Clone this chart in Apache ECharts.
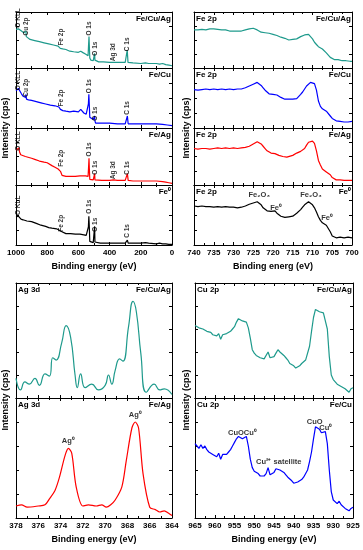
<!DOCTYPE html>
<html><head><meta charset="utf-8">
<script src="https://cdn.jsdelivr.net/npm/echarts@6/dist/echarts.min.js"></script>
<style>html,body{margin:0;padding:0;background:#fff}#c{width:363px;height:550px}</style>
</head><body><div id="c"></div>
<script>
// ---- Survey spectra (Binding energy eV, intensity a.u.) ----
const surveyFeCuAg = [[1000,69],[992,68],[985,70],[978,73],[974,69],[965,66],[950,63],[940,61],[936,66],[934,56],[925,54],[910,51],[880,49],[850,47],[820,45],[790,43],[760,41],[730,39],[722,38],[716,35],[712,33],[700,34],[680,33],[655,30],[630,29],[600,28],[585,30],[575,31],[568,27],[555,25],[545,24],[538,22],[535,40],[532,56],[530,40],[527,18],[520,14],[505,13],[498,14],[496,26],[494,14],[490,11],[470,11],[440,11],[400,10],[370,10],[340,10],[300,10],[290,10],[287,32],[284,32],[282,10],[275,9],[250,9],[200,8],[170,9],[150,8],[100,8],[80,7],[60,8],[40,6],[20,5],[0,4]];
const surveyFeCu = [[1000,62],[992,63],[985,66],[980,68],[975,63],[965,57],[955,53],[945,52],[938,51],[936,56],[933,48],[920,47],[900,46],[870,44],[840,42],[810,40],[780,38],[750,37],[725,35],[720,34],[715,31],[710,30],[700,29],[680,28],[655,27],[630,28],[600,27],[585,31],[578,29],[565,25],[550,23],[540,22],[536,40],[533,56],[530,38],[527,18],[520,16],[505,14],[498,12],[496,20],[494,12],[490,8],[460,8],[400,8],[350,7],[300,7],[288,7],[286,20],[283,20],[281,7],[250,7],[200,7],[150,7],[100,7],[60,6],[30,5],[0,4]];
const surveyFeAg = [[1000,61],[995,63],[988,64],[982,65],[977,58],[970,53],[960,51],[940,50],[900,47],[880,45],[850,42],[820,40],[800,39],[790,37],[770,34],[750,31],[730,28],[722,27],[715,24],[712,24],[705,17],[700,15],[680,15],[650,15],[620,15],[590,16],[570,16],[555,16],[545,15],[538,15],[535,30],[532,47],[530,30],[527,10],[520,9],[505,9],[498,9],[496,20],[494,9],[490,8],[450,8],[400,8],[375,9],[370,12],[367,9],[350,8],[300,8],[288,8],[286,20],[283,20],[281,8],[250,7],[200,7],[150,7],[100,7],[60,6],[40,5],[20,4],[0,3]];
const surveyFe0 = [[1000,47],[993,46],[985,48],[978,50],[974,45],[968,43],[955,42],[930,40],[900,39],[870,36],[840,33],[810,31],[790,29],[770,28],[740,27],[725,25],[718,24],[712,23],[708,21],[700,20],[680,19],[650,19],[620,18],[590,18],[565,17],[550,16],[540,14],[536,30],[533,48],[530,30],[527,6],[520,5],[505,4],[498,5],[496,31],[494,5],[490,3],[460,3],[400,3],[350,3],[300,3],[288,3],[286,8],[283,8],[281,3],[250,3],[200,3],[170,4],[150,3],[100,2],[80,3],[60,2],[40,2],[20,1],[0,1]];

// ---- Fe 2p ----
const fe2pFeCuAg = [[740,68],[739.5,67],[739,68],[738.5,68],[738,69],[737.5,67],[737,68],[736.5,66],[736,70],[735.5,69],[735,70],[734.5,68],[734,69],[733.5,67],[733,68],[732.5,69],[732,68],[731.5,67],[731,66],[730.5,65],[730,66],[729.5,65],[729,66],[728.5,65],[728,66],[727.5,67],[727,68],[726.5,69],[726,70],[725.5,69],[725,71],[724.5,69],[724,68],[723.5,67],[723,64],[722.5,63],[722,63],[721.5,62],[721,62],[720.5,61],[720,60],[719.5,59],[719,58],[718.5,57],[718,55],[717.5,54],[717,53],[716.5,51],[716,50],[715.5,49],[715,51],[714.5,50],[714,52],[713.5,54],[713,56],[712.5,58],[712,59],[711.5,62],[711,60],[710.5,57],[710,52],[709.5,46],[709,42],[708.5,38],[708,36],[707.5,34],[707,33],[706.5,27],[706,23],[705.5,19],[705,17],[704.5,15],[704,14],[703.5,15],[703,14],[702.5,13],[702,14],[701.5,13],[701,12],[700.5,12],[700,12]];
const fe2pFeCu = [[740,64],[739,63],[738,64],[737,65],[736,64],[735,65],[734,64],[733,65],[732,64],[731,65],[730,64],[729,65],[728.5,63],[728,65],[727.5,66],[727,67],[726,70],[725,73],[724.5,75],[724,76],[723.5,74],[723,71],[722.5,67],[722,63],[721.5,60],[721,57],[720.5,55],[720,56],[719.5,57],[719,55],[718.5,53],[718,51],[717.5,50],[717,48],[716,48],[715,48],[714,49],[713.5,52],[713,56],[712.5,60],[712,65],[711.5,70],[711,73],[710.5,76],[710,77],[709.5,74],[709,63],[708.5,45],[708,36],[707.5,32],[707,30],[706.5,28],[706,25],[705.5,20],[705,16],[704.5,13],[704,12],[703,11],[702,10],[701,10],[700,11]];
const fe2pFeAg = [[740,64],[739,63],[738,64],[737,64],[736,63],[735,64],[734,65],[733,64],[732,65],[731,64],[730,65],[729,64],[728,65],[727,66],[726,68],[725,72],[724.5,75],[724,76],[723.5,74],[723,72],[722.5,68],[722,64],[721.5,60],[721,57],[720.5,56],[720,56],[719.5,55],[719,53],[718.5,52],[718,51],[717.5,50],[717,50],[716.5,49],[716,50],[715,52],[714.5,55],[714,56],[713.5,57],[713,59],[712.5,61],[712,64],[711.5,70],[711,75],[710.5,78],[710,77],[709.5,73],[709,60],[708.5,43],[708,35],[707.5,28],[707,26],[706.5,23],[706,22],[705.5,18],[705,13],[704.5,10],[704,9],[703,9],[702,8],[701,8],[700,8]];
const fe2pFe0 = [[740,65],[739,64],[738,65],[737,64],[736,64],[735,63],[734,64],[733,63],[732,64],[731,63],[730,63],[729,62],[728,63],[727,65],[726,68],[725,70],[724.5,71],[724,72],[723.5,71],[723,67],[722.5,62],[722,59],[721.5,57],[721,56],[720.5,56],[720,57],[719.5,57],[719,53],[718.5,50],[718,48],[717.5,47],[717,46],[716.5,46],[716,47],[715.5,48],[715,48],[714.5,50],[714,53],[713.5,56],[713,59],[712.5,63],[712,67],[711.5,70],[711,72],[710.5,71],[710,67],[709.5,62],[709,55],[708.5,47],[708,41],[707.5,37],[707,35],[706.5,33],[706,30],[705.5,22],[705,15],[704.5,13],[704,12],[703.5,12],[703,13],[702,12],[701,13],[700,12]];

// ---- Ag 3d ----
const ag3dFeCuAg = [[378,17],[377.6,7],[377.2,14],[376.8,12],[376.3,17],[375.9,11],[375.4,21],[375.0,19],[374.7,35],[374.4,33],[373.9,48],[373.5,63],[373.1,53],[372.7,20],[372.5,9],[372.2,21],[371.8,9],[371.2,12],[370.6,7],[370.0,11],[369.7,20],[369.4,12],[369.1,24],[368.7,34],[368.4,32],[367.9,62],[367.5,84],[367.2,75],[366.8,39],[366.3,5],[365.6,12],[365.1,7],[364.7,8],[364,3]];
const ag3dFeAg = [[378,10],[377.5,11],[377,9],[376,10],[375.4,11],[375,16],[374.5,23],[374.1,34],[373.6,52],[373.3,58],[373,54],[372.6,26],[372,10],[371.5,11],[370.8,10],[370.3,11],[369.9,9],[369.5,11],[369.1,15],[368.5,26],[368.1,48],[367.6,75],[367.3,80],[367,75],[366.6,37],[366,9],[365.5,7],[365.1,5],[364.7,6],[364.3,4],[364,2]];

// ---- Cu 2p ----
const cu2pFeCuAg = [[965,63],[964.5,62],[964,61],[963.5,62],[963,60],[962.5,61],[962,58],[961.5,59],[961,57],[960.5,55],[960,56],[959.5,54],[959,56],[958.5,51],[958,55],[957.5,54],[957,56],[956.5,57],[956,58],[955.5,60],[955,62],[954.5,66],[954,69],[953.5,68],[953,67],[952.5,68],[952,66],[951.5,61],[951,52],[950.5,42],[950,39],[949.5,37],[949,36],[948.5,35],[948,36],[947.5,34],[947,35],[946.5,40],[946,35],[945.5,34],[945,36],[944.5,39],[944,42],[943.5,40],[943,41],[942.5,37],[942,35],[941.5,33],[941,30],[940.5,29],[940,28],[939.5,26],[939,27],[938.5,28],[938,30],[937.5,31],[937,33],[936.5,34],[936,45],[935.5,58],[935,70],[934.5,77],[934,76],[933.5,75],[933,76],[932.5,74],[932,75],[931.5,60],[931,36],[930.5,20],[930,16],[929.5,14],[929,12],[928.5,13],[928,10],[927.5,11],[927,8],[926.5,9],[926,5],[925.5,8],[925,9]];
const cu2pFeCu = [[965,62],[964.5,60],[964,58],[963.5,61],[963,58],[962.5,60],[962,57],[961.5,55],[961,56],[960.5,53],[960,54],[959.5,51],[959,54],[958.5,49],[958,53],[957.5,54],[957,53],[956.5,55],[956,57],[955.5,60],[955,63],[954.5,66],[954,68],[953.5,67],[953,66],[952.5,67],[952,68],[951.5,60],[951,49],[950.5,42],[950,39],[949.5,38],[949,37],[948.5,35],[948,36],[947.5,35],[947,37],[946.5,42],[946,36],[945.5,35],[945,38],[944.5,41],[944,42],[943.5,40],[943,40],[942.5,38],[942,36],[941.5,34],[941,33],[940.5,31],[940,29],[939.5,28],[939,30],[938.5,31],[938,32],[937.5,34],[937,35],[936.5,40],[936,47],[935.5,55],[935,66],[934.5,76],[934,75],[933.5,74],[933,71],[932.5,70],[932,72],[931.5,62],[931,40],[930.5,22],[930,15],[929.5,14],[929,12],[928.5,14],[928,11],[927.5,10],[927,8],[926.5,9],[926,6],[925.5,8],[925,9]];

const TEAL = '#1e9a8c', BLUE = '#0000ff', RED = '#ff0000', BLACK = '#000000';
const FONT = 'Liberation Sans, Arial, sans-serif';

const panels = [
  // survey
  {box:[16,12,156,56], x:[0,1000,200], yint:25, data:surveyFeCuAg, color:TEAL, labels:false, smooth:false},
  {box:[16,68,156,60], x:[0,1000,200], yint:25, data:surveyFeCu, color:BLUE, labels:false, smooth:false},
  {box:[16,128,156,57], x:[0,1000,200], yint:25, data:surveyFeAg, color:RED, labels:false, smooth:false},
  {box:[16,185,156,60], x:[0,1000,200], yint:25, data:surveyFe0, color:BLACK, labels:true, smooth:false},
  // Fe 2p
  {box:[194,12,158,56], x:[700,740,5], yint:25, data:fe2pFeCuAg, color:TEAL, labels:false, smooth:false},
  {box:[194,68,158,60], x:[700,740,5], yint:25, data:fe2pFeCu, color:BLUE, labels:false, smooth:false},
  {box:[194,128,158,57], x:[700,740,5], yint:25, data:fe2pFeAg, color:RED, labels:false, smooth:false},
  {box:[194,185,158,60], x:[700,740,5], yint:25, data:fe2pFe0, color:BLACK, labels:true, smooth:false},
  // Ag 3d
  {box:[16,283,156,115], x:[364,378,2], yint:20, data:ag3dFeCuAg, color:TEAL, labels:false, smooth:0.5},
  {box:[16,398,156,120], x:[364,378,2], yint:20, data:ag3dFeAg, color:RED, labels:true, smooth:0.3},
  // Cu 2p
  {box:[195,283,158,115], x:[925,965,5], yint:20, data:cu2pFeCuAg, color:TEAL, labels:false, smooth:false},
  {box:[195,398,158,120], x:[925,965,5], yint:20, data:cu2pFeCu, color:BLUE, labels:true, smooth:false}
];

// annotation labels: [panelIndex, energy, value, text]
const peakLabels = [
  [0,987,72,'O KLL'],[0,936,58,'Cu 2p'],[0,712,40,'Fe 2p'],[0,533,58,'O 1s'],[0,495,22,'O 1s'],[0,374,12,'Ag 3d'],[0,284,30,'C 1s'],
  [1,987,63,'O KLL'],[1,936,52,'Cu 2p'],[1,712,36,'Fe 2p'],[1,533,58,'O 1s'],[1,495,12,'O 1s'],[1,284,22,'C 1s'],
  [2,987,60,'O KLL'],[2,712,32,'Fe 2p'],[2,533,50,'O 1s'],[2,495,18,'O 1s'],[2,374,10,'Ag 3d'],[2,284,18,'C 1s'],
  [3,987,50,'O KLL'],[3,712,22,'Fe 2p'],[3,533,52,'O 1s'],[3,495,22,'O 1s'],[3,284,12,'C 1s']
];
const centerLabels = [
  [7,723.5,83,'Fe\u2082O\u2083'],[7,719.2,62,'Fe\u2070'],[7,710.4,83,'Fe\u2082O\u2083'],[7,706.3,45,'Fe\u2070'],
  [9,373.3,64,'Ag\u2070'],[9,367.3,86,'Ag\u2070'],
  [11,953,71,'CuOCu\u2070'],[11,943.8,47,'Cu\u00B2\u207A satellite'],[11,934.7,80,'CuO'],[11,931.9,75,'Cu\u2070']
];
const panelTitles = ['Fe 2p','Fe 2p','Fe 2p','Fe 2p','Ag 3d','Ag 3d','Cu 2p','Cu 2p'];
const titlePanelIdx = [4,5,6,7,8,9,10,11];
const sampleNames = ['Fe/Cu/Ag','Fe/Cu','Fe/Ag','Fe\u2070','Fe/Cu/Ag','Fe/Cu','Fe/Ag','Fe\u2070','Fe/Cu/Ag','Fe/Ag','Fe/Cu/Ag','Fe/Cu'];
const xTitles = ['Binding energy (eV)','Binding energ (eV)','Binding energy (eV)','Binding energy (eV)'];
const yTitle = 'Intensity (cps)';

const grids=[], xAxes=[], yAxes=[], series=[];
const lineStyle = {color:'#000', width:1};
panels.forEach((p,i)=>{
  grids.push({left:p.box[0], top:p.box[1], width:p.box[2], height:p.box[3]});
  const xBase = {type:'value', gridIndex:i, min:p.x[0], max:p.x[1], interval:p.x[2], inverse:true,
    axisLine:{show:true, onZero:false, lineStyle}, axisTick:{show:true, inside:true, length:3, lineStyle},
    minorTick:{show:true, splitNumber:2, length:2, lineStyle}, splitLine:{show:false}};
  xAxes.push(Object.assign({}, xBase, {position:'bottom',
    axisLabel:{show:p.labels, color:'#000', fontSize:8, fontWeight:'bold', fontFamily:FONT, margin:4,
      formatter: v => String(v)}}));
  xAxes.push(Object.assign({}, xBase, {position:'top', axisLabel:{show:false}}));
  const yBase = {type:'value', gridIndex:i, min:0, max:100, interval:p.yint,
    axisLine:{show:true, onZero:false, lineStyle}, axisTick:{show:true, inside:true, length:3, lineStyle},
    axisLabel:{show:false}, splitLine:{show:false}};
  yAxes.push(Object.assign({}, yBase, {position:'left'}));
  yAxes.push(Object.assign({}, yBase, {position:'right'}));
  series.push({type:'line', xAxisIndex:2*i, yAxisIndex:2*i, data:p.data, showSymbol:false, symbol:'none',
    smooth:p.smooth, lineStyle:{color:p.color, width:1.2}, animation:false, silent:true, clip:true});
});

// annotation series (scatter with labels, invisible symbols)
function addLabels(list, rotated){
  const byPanel = {};
  list.forEach(l=>{ (byPanel[l[0]] = byPanel[l[0]] || []).push({value:[l[1],l[2]], name:l[3]}); });
  Object.keys(byPanel).forEach(k=>{
    const i = +k;
    series.push({type:'scatter', xAxisIndex:2*i, yAxisIndex:2*i, symbolSize:0, silent:true, animation:false,
      data:byPanel[k], z:5,
      label:{show:true, formatter:'{b}', color:'#000', fontSize: rotated?6.5:7.5, fontFamily:FONT, fontWeight:'bold',
        position:'inside', rotate: rotated?90:0, align: rotated?'left':'center', verticalAlign:'middle'}});
  });
}
addLabels(peakLabels, true);
addLabels(centerLabels, false);

const graphics = [];
const tstyle = (txt, x, y, align) => ({type:'text', x, y, style:{text:txt, fill:'#000', font:'bold 8px '+FONT, textAlign:align, textVerticalAlign:'top'}, silent:true});
panels.forEach((p,i)=>{
  graphics.push(tstyle(sampleNames[i], p.box[0]+p.box[2]-1, p.box[1]+3, 'right'));
});
titlePanelIdx.forEach((pi,k)=>{
  const p = panels[pi];
  graphics.push(tstyle(panelTitles[k], p.box[0]+2, p.box[1]+3, 'left'));
});
// x-axis titles
[[94,262,0],[273,262,1],[94,535,2],[274,535,3]].forEach(a=>{
  graphics.push({type:'text', x:a[0], y:a[1], style:{text:xTitles[a[2]], fill:'#000', font:'bold 9px '+FONT, textAlign:'center', textVerticalAlign:'top'}, silent:true});
});
// y-axis titles
[[6,128],[187,128],[6,400],[187,400]].forEach(a=>{
  graphics.push({type:'text', x:a[0], y:a[1], rotation:Math.PI/2, style:{text:yTitle, fill:'#000', font:'bold 9px '+FONT, textAlign:'center', textVerticalAlign:'middle'}, silent:true});
});

const chart = echarts.init(document.getElementById('c'), null, {renderer:'canvas'});
chart.setOption({animation:false, backgroundColor:'#fff', grid:grids, xAxis:xAxes, yAxis:yAxes, series, graphic:graphics});
</script></body></html>
